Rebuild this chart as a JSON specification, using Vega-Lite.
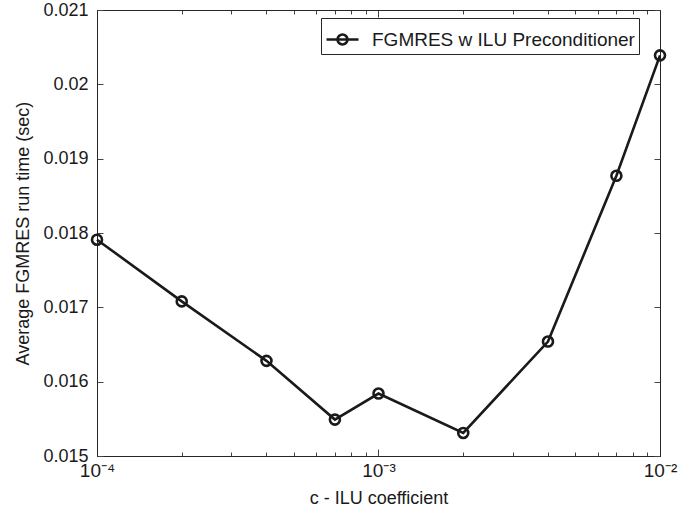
{
  "$schema": "https://vega.github.io/schema/vega-lite/v6.json",
  "width": 563,
  "height": 446,
  "autosize": {"type": "none"},
  "padding": {"left": 97, "top": 10, "right": 26, "bottom": 56},
  "background": "white",
  "config": {
    "view": {"stroke": "#262626", "strokeWidth": 1},
    "font": "Liberation Sans",
    "axis": {"labelFont": "Liberation Sans", "titleFont": "Liberation Sans", "labelColor": "#1a1a1a", "titleColor": "#1a1a1a", "titleFontWeight": "normal", "domainColor": "#262626", "tickColor": "#444444", "grid": false}
  },
  "data": {
    "values": [
      {"c": 0.0001, "t": 0.01791, "series": "FGMRES w ILU Preconditioner"},
      {"c": 0.0002, "t": 0.01708, "series": "FGMRES w ILU Preconditioner"},
      {"c": 0.0004, "t": 0.01628, "series": "FGMRES w ILU Preconditioner"},
      {"c": 0.0007, "t": 0.01549, "series": "FGMRES w ILU Preconditioner"},
      {"c": 0.001, "t": 0.01584, "series": "FGMRES w ILU Preconditioner"},
      {"c": 0.002, "t": 0.01531, "series": "FGMRES w ILU Preconditioner"},
      {"c": 0.004, "t": 0.01654, "series": "FGMRES w ILU Preconditioner"},
      {"c": 0.007, "t": 0.01877, "series": "FGMRES w ILU Preconditioner"},
      {"c": 0.01, "t": 0.02039, "series": "FGMRES w ILU Preconditioner"}
    ]
  },
  "layer": [
    {
      "mark": {"type": "line", "strokeWidth": 2.6, "point": {"filled": false, "shape": "circle", "size": 100, "strokeWidth": 2.6}},
      "encoding": {
        "x": {
          "field": "c", "type": "quantitative",
          "scale": {"type": "log", "domain": [0.0001, 0.01], "nice": false},
          "axis": {
            "orient": "bottom",
            "title": "c - ILU coefficient",
            "titleFontSize": 18,
            "titlePadding": 6,
            "labelFontSize": 19,
            "values": [0.0001, 0.0002, 0.0003, 0.0004, 0.0005, 0.0006, 0.0007, 0.0008, 0.0009, 0.001, 0.002, 0.003, 0.004, 0.005, 0.006, 0.007, 0.008, 0.009, 0.01],
            "labelExpr": "datum.value == 0.0001 ? '10⁻⁴' : datum.value == 0.001 ? '10⁻³' : datum.value == 0.01 ? '10⁻²' : ''",
            "tickSize": {"condition": {"test": "datum.value == 0.0001 || datum.value == 0.001 || datum.value == 0.01", "value": -7}, "value": -4},
            "labelPadding": 12,
            "labelFlush": false,
            "labelOverlap": false
          }
        },
        "y": {
          "field": "t", "type": "quantitative",
          "scale": {"domain": [0.015, 0.021], "nice": false, "zero": false},
          "axis": {
            "orient": "left",
            "title": "Average FGMRES run time (sec)",
            "titleFontSize": 18,
            "titlePadding": 10,
            "labelFontSize": 18,
            "values": [0.015, 0.016, 0.017, 0.018, 0.019, 0.02, 0.021],
            "format": "~g",
            "tickSize": -6,
            "labelPadding": 15,
            "labelFlush": false,
            "labelOverlap": false
          }
        },
        "color": {
          "field": "series", "type": "nominal",
          "scale": {"domain": ["FGMRES w ILU Preconditioner"], "range": ["#1a1a1a"]},
          "legend": {
            "title": null,
            "orient": "none",
            "legendX": 224,
            "legendY": 8,
            "strokeColor": "#262626",
            "fillColor": "white",
            "padding": 4,
            "labelFont": "Liberation Sans",
            "labelFontSize": 19,
            "labelColor": "#1a1a1a",
            "labelLimit": 500,
            "labelOffset": 12,
            "symbolType": "M-1,0L1,0M0.31,0A0.31,0.31,0,1,1,-0.31,0A0.31,0.31,0,1,1,0.31,0",
            "symbolSize": 1024,
            "symbolStrokeWidth": 2.6,
            "symbolStrokeColor": "#1a1a1a",
            "symbolFillColor": "transparent"
          }
        }
      }
    },
    {
      "mark": {"type": "line", "opacity": 0},
      "encoding": {
        "x": {
          "field": "c", "type": "quantitative",
          "scale": {"type": "log", "domain": [0.0001, 0.01], "nice": false},
          "axis": {
            "orient": "top", "title": null, "labels": false,
            "values": [0.0001, 0.0002, 0.0003, 0.0004, 0.0005, 0.0006, 0.0007, 0.0008, 0.0009, 0.001, 0.002, 0.003, 0.004, 0.005, 0.006, 0.007, 0.008, 0.009, 0.01],
            "tickSize": {"condition": {"test": "datum.value == 0.0001 || datum.value == 0.001 || datum.value == 0.01", "value": -7}, "value": -4}
          }
        },
        "y": {
          "field": "t", "type": "quantitative",
          "scale": {"domain": [0.015, 0.021], "nice": false, "zero": false},
          "axis": {
            "orient": "right", "title": null, "labels": false,
            "values": [0.015, 0.016, 0.017, 0.018, 0.019, 0.02, 0.021],
            "tickSize": -6
          }
        }
      }
    }
  ],
  "resolve": {"axis": {"x": "independent", "y": "independent"}}
}
